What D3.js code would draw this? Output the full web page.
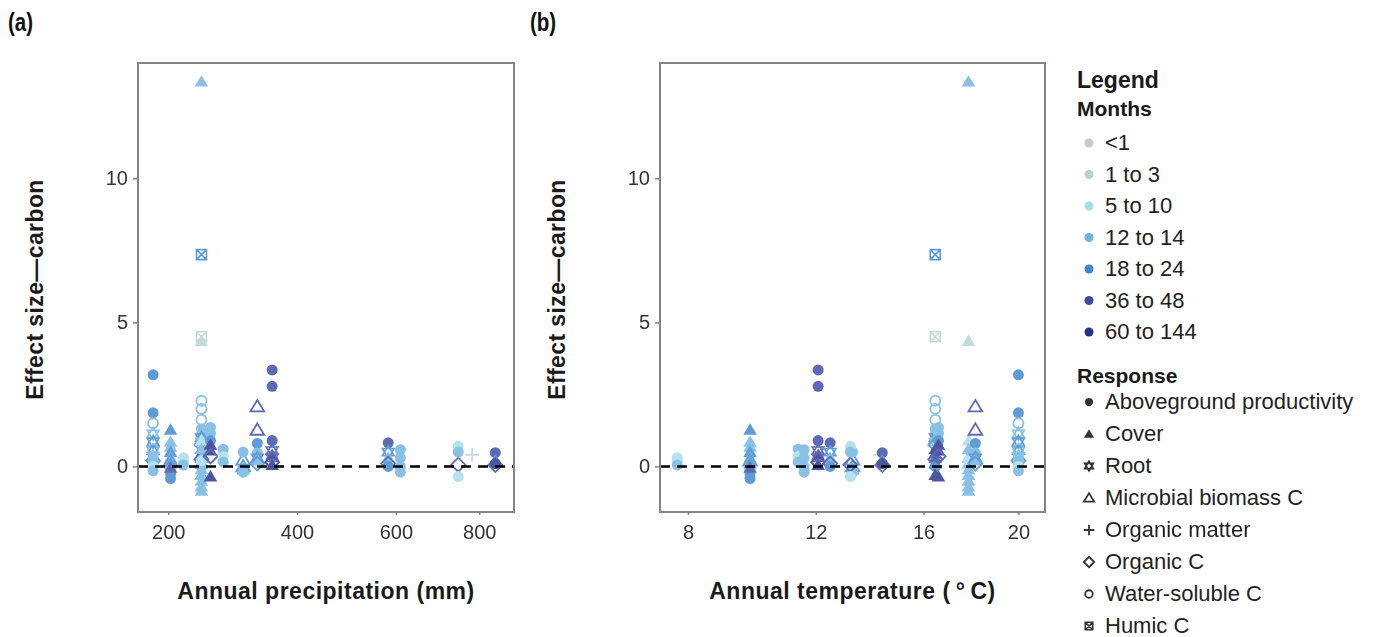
<!DOCTYPE html>
<html><head><meta charset="utf-8">
<script src="https://cdn.jsdelivr.net/npm/d3@7/dist/d3.min.js"></script>
<style>
body{margin:0;background:#fff;}
text{font-family:"Liberation Sans",Arial,sans-serif;}
</style></head>
<body><svg id="c" width="1373" height="637"></svg>
<script>
// ---- data ----
const monthLabels = ["<1","1 to 3","5 to 10","12 to 14","18 to 24","36 to 48","60 to 144"];
const monthColors = ["#c9c9c9","#b5d3d3","#a6dcea","#6fb3e0","#3c87cf","#3c4aa6","#25308a"];
const responseLabels = ["Aboveground productivity","Cover","Root","Microbial biomass C","Organic matter","Organic C","Water-soluble C","Humic C"];
const responseCodes = ["A","C","R","M","O","D","W","H"];
const precipTicks = [200,400,600,800];
const tempTicks = [8,12,16,20];
const effectTicks = [0,5,10];
// sites: [precipitation mm, temperature °C]
const sitePrecip = [181,203,220,245,245,258,277,308,331,356,583,610,747,782,842];
const siteTemp   = [20.0,9.84,7.7,16.47,17.84,16.6,11.4,13.3,18.13,12.08,12.5,11.6,13.22,14.32,14.4];
// observations: [site index, effect size, month class, response code]
const observations = [
 [0,3.18,4,"A"],[0,1.86,4,"A"],[0,1.5,3,"W"],[0,1.13,3,"R"],[0,0.85,4,"R"],[0,0.55,4,"R"],[0,0.35,3,"R"],[0,0.6,3,"W"],[0,0.2,4,"D"],[0,0.3,3,"A"],[0,0.1,3,"A"],[0,0.0,2,"A"],[0,-0.15,3,"A"],
 [1,1.27,4,"C"],[1,0.85,3,"C"],[1,0.68,3,"C"],[1,0.5,4,"C"],[1,0.3,3,"C"],[1,0.2,4,"M"],[1,0.1,4,"C"],[1,0.0,4,"A"],[1,-0.1,3,"A"],[1,-0.25,4,"A"],[1,-0.42,4,"A"],[1,-0.05,5,"C"],
 [2,0.3,2,"A"],[2,0.2,2,"A"],[2,0.05,3,"A"],
 [3,7.35,4,"H"],[3,4.5,1,"H"],[3,2.28,3,"W"],[3,2.0,3,"W"],[3,1.62,3,"W"],[3,1.3,3,"A"],[3,1.1,3,"A"],[3,1.0,4,"R"],[3,0.85,3,"R"],[3,0.75,4,"D"],[3,0.6,6,"C"],[3,0.45,6,"C"],[3,0.3,5,"C"],[3,0.25,5,"D"],[3,0.1,6,"C"],[3,0.0,4,"A"],[3,-0.3,6,"C"],
 [4,13.35,3,"C"],[4,4.35,1,"C"],[4,0.9,2,"C"],[4,0.6,3,"C"],[4,0.3,3,"C"],[4,0.1,3,"C"],[4,-0.1,3,"C"],[4,-0.3,3,"C"],[4,-0.5,3,"C"],[4,-0.7,3,"C"],[4,-0.85,3,"C"],[4,0.2,2,"A"],
 [5,1.35,3,"A"],[5,1.15,3,"A"],[5,0.9,4,"A"],[5,0.75,6,"C"],[5,0.55,6,"C"],[5,0.35,5,"D"],[5,-0.35,6,"C"],
 [6,0.6,3,"A"],[6,0.35,2,"A"],[6,0.15,3,"A"],
 [7,0.23,4,"M"],[7,0.0,4,"M"],[7,-0.1,4,"C"],[7,0.5,3,"A"],[7,-0.2,3,"A"],
 [8,2.08,5,"M"],[8,1.27,5,"M"],[8,0.8,4,"A"],[8,0.47,3,"A"],[8,0.3,4,"R"],[8,0.2,3,"C"],[8,0.1,4,"D"],
 [9,3.35,5,"A"],[9,2.78,5,"A"],[9,0.9,5,"A"],[9,0.55,5,"R"],[9,0.4,6,"C"],[9,0.3,5,"R"],[9,0.15,6,"D"],[9,0.05,6,"C"],
 [10,0.82,5,"A"],[10,0.5,4,"R"],[10,0.3,3,"C"],[10,0.1,5,"D"],[10,0.0,4,"A"],
 [11,0.58,3,"A"],[11,0.3,3,"A"],[11,0.0,3,"A"],[11,-0.2,3,"A"],
 [12,0.7,2,"A"],[12,0.06,5,"D"],[12,-0.35,2,"A"],[12,0.5,3,"A"],
 [13,0.4,1,"O"],
 [14,0.48,5,"A"],[14,0.2,4,"C"],[14,0.05,5,"D"],[14,0.1,6,"A"]
];

// ---- drawing ----
const svg = d3.select("#c");
const plotTop = 63, plotBottom = 512;
const y = d3.scaleLinear().domain([-1.58,14.0]).range([plotBottom, plotTop]);

function marker(g, code, color, s){
  s = s || 1;
  const sw = 1.8;
  if(code==="A"){
    g.append("circle").attr("r",5.5*s).attr("fill",color);
  } else if(code==="W"){
    g.append("circle").attr("r",5*s).attr("fill","none").attr("stroke",color).attr("stroke-width",sw);
  } else if(code==="C"){
    const h=6.5*s; g.append("path").attr("d",`M0,${-h}L${h*1.05},${h*0.75}L${-h*1.05},${h*0.75}Z`).attr("fill",color);
  } else if(code==="M"){
    const h=6.5*s; g.append("path").attr("d",`M0,${-h}L${h*1.05},${h*0.75}L${-h*1.05},${h*0.75}Z`).attr("fill","none").attr("stroke",color).attr("stroke-width",sw);
  } else if(code==="R"){
    const h=6.5*s;
    g.append("path").attr("d",`M0,${-h}L${h*0.9},${h*0.55}L${-h*0.9},${h*0.55}Z M0,${h}L${h*0.9},${-h*0.55}L${-h*0.9},${-h*0.55}Z`).attr("fill","none").attr("stroke",color).attr("stroke-width",sw*0.9);
  } else if(code==="O"){
    const h=7*s; g.append("path").attr("d",`M${-h},0H${h}M0,${-h}V${h}`).attr("stroke",color).attr("stroke-width",sw);
  } else if(code==="D"){
    const h=7*s; g.append("path").attr("d",`M0,${-h}L${h},0L0,${h}L${-h},0Z`).attr("fill","none").attr("stroke",color).attr("stroke-width",sw);
  } else if(code==="H"){
    const h=5*s; g.append("path").attr("d",`M${-h},${-h}H${h}V${h}H${-h}Z M${-h},${-h}L${h},${h}M${h},${-h}L${-h},${h}`).attr("fill","none").attr("stroke",color).attr("stroke-width",sw*0.9);
  }
}

function panel(left, right, x, ticks, xLabel, letter, letterX, yLabelX, getX){
  const g = svg.append("g");
  g.append("text").attr("transform",`translate(${letterX},31) scale(0.82,1)`).text(letter)
    .attr("font-size",25).attr("font-weight","bold").attr("fill","#111");
  const pts = g.append("g").attr("opacity",0.82);
  observations.forEach(o=>{
    const m = pts.append("g").attr("transform",`translate(${x(getX(o[0]))},${y(o[1])})`);
    marker(m, o[3], monthColors[o[2]]);
  });
  g.append("line").attr("x1",left).attr("x2",right).attr("y1",y(0)).attr("y2",y(0))
    .attr("stroke","#000").attr("stroke-width",2.5).attr("stroke-dasharray","10,7");
  g.append("rect").attr("x",left).attr("y",plotTop).attr("width",right-left).attr("height",plotBottom-plotTop)
    .attr("fill","none").attr("stroke","#8a8282").attr("stroke-width",2);
  const ya = g.append("g").attr("transform",`translate(${left},0)`).call(d3.axisLeft(y).tickValues(effectTicks).tickSize(5).tickPadding(5));
  ya.select(".domain").remove();
  ya.selectAll("line").attr("stroke","#8a8282").attr("stroke-width",1.5);
  ya.selectAll("text").attr("font-size",20).attr("fill","#333").style("font-family","'Liberation Sans',Arial,sans-serif");
  const xa = g.append("g").attr("transform",`translate(0,${plotBottom})`).call(d3.axisBottom(x).tickValues(ticks).tickSize(3).tickPadding(10));
  xa.select(".domain").remove();
  xa.selectAll("line").attr("stroke","#8a8282").attr("stroke-width",1.5);
  xa.selectAll("text").attr("font-size",20).attr("fill","#333").style("font-family","'Liberation Sans',Arial,sans-serif");
  g.append("text").attr("x",(left+right)/2).attr("y",599).attr("text-anchor","middle")
    .attr("font-size",23).attr("font-weight","bold").attr("letter-spacing",0.5).attr("fill","#1a1a1a").text(xLabel);
  g.append("text").attr("transform",`translate(${yLabelX},${(plotTop+plotBottom)/2+2}) rotate(-90)`).attr("text-anchor","middle")
    .attr("font-size",23).attr("font-weight","bold").attr("letter-spacing",0.4).attr("fill","#1a1a1a").text("Effect size\u2014carbon");
}

const xP = d3.scaleSqrt().domain([163,892]).range([138,514]);
const xT = d3.scaleSqrt().domain([7.23,21.2]).range([660,1045]);
panel(138,514,xP,precipTicks,"Annual precipitation (mm)","(a)",8,43,i=>sitePrecip[i]);
panel(660,1045,xT,tempTicks,"Annual temperature (\u2009\u00B0\u2009C)","(b)",530,565,i=>siteTemp[i]);

const lg = svg.append("g");
lg.append("text").attr("x",1077).attr("y",88).text("Legend").attr("font-size",23).attr("font-weight","bold").attr("fill","#1a1a1a");
lg.append("text").attr("x",1077).attr("y",116).text("Months").attr("font-size",21).attr("font-weight","bold").attr("fill","#1a1a1a");
monthLabels.forEach((l,i)=>{
  const yy = 143 + i*31.5;
  lg.append("circle").attr("cx",1089).attr("cy",yy).attr("r",4.5).attr("fill",monthColors[i]);
  lg.append("text").attr("x",1105).attr("y",yy+7).text(l).attr("font-size",22).attr("fill","#222");
});
lg.append("text").attr("x",1077).attr("y",383).text("Response").attr("font-size",21).attr("font-weight","bold").attr("fill","#1a1a1a");
responseLabels.forEach((l,i)=>{
  const yy = 402 + i*32;
  const m = lg.append("g").attr("transform",`translate(1089,${yy})`);
  marker(m, responseCodes[i], "#333", 0.75);
  lg.append("text").attr("x",1105).attr("y",yy+7).text(l).attr("font-size",22).attr("fill","#222");
});
</script></body></html>
